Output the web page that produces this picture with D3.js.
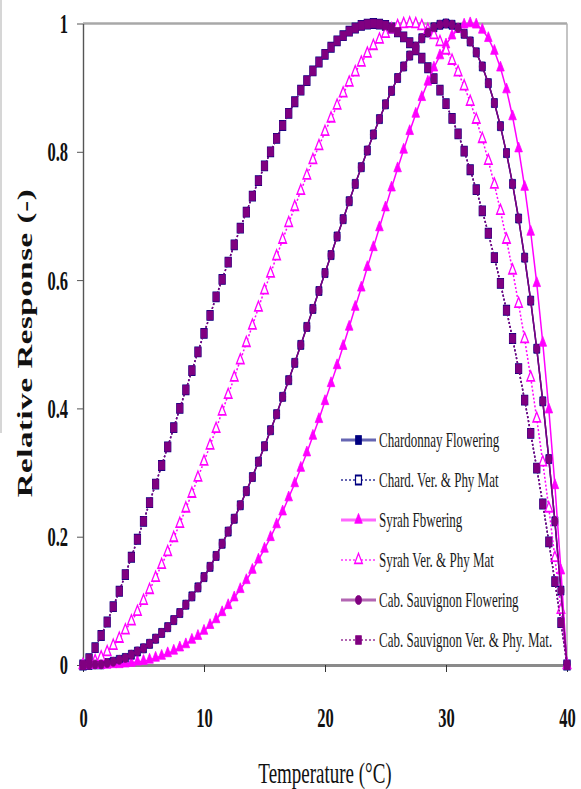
<!DOCTYPE html>
<html>
<head>
<meta charset="utf-8">
<script src="https://cdn.jsdelivr.net/npm/d3@7"></script>
<style>
  html, body { margin: 0; padding: 0; background: #fff; }
  svg { display: block; }
</style>
</head>
<body>
<div id="chart"></div>
<script>

// temperature (°C) of every marker, one each half degree
var temps = [0,0.5,1,1.5,2,2.5,3,3.5,4,4.5,5,5.5,6,6.5,7,7.5,8,8.5,9,9.5,
    10,10.5,11,11.5,12,12.5,13,13.5,14,14.5,15,15.5,16,16.5,17,17.5,18,18.5,19,19.5,
    20,20.5,21,21.5,22,22.5,23,23.5,24,24.5,25,25.5,26,26.5,27,27.5,28,28.5,29,29.5,
    30,30.5,31,31.5,32,32.5,33,33.5,34,34.5,35,35.5,36,36.5,37,37.5,38,38.5,39,39.5,40];

// curve peaking near 24 °C
var cabVerPhyMat = [0,0.010,0.027,0.046,0.067,0.091,0.115,0.141,0.168,0.196,
    0.224,0.253,0.282,0.311,0.340,0.370,0.400,0.429,0.459,0.488,
    0.517,0.545,0.574,0.601,0.628,0.655,0.681,0.706,0.731,0.755,
    0.778,0.800,0.821,0.841,0.860,0.878,0.896,0.911,0.926,0.940,
    0.952,0.963,0.973,0.981,0.988,0.993,0.997,0.999,1.000,0.999,
    0.997,0.993,0.987,0.979,0.970,0.959,0.946,0.931,0.914,0.896,
    0.875,0.852,0.828,0.801,0.772,0.741,0.708,0.673,0.635,0.595,
    0.553,0.509,0.462,0.413,0.361,0.307,0.251,0.192,0.130,0.066,0];

// curve peaking near 27 °C
var syrahVerPhyMat = [0,0.002,0.006,0.012,0.020,0.030,0.041,0.054,0.068,0.083,
    0.100,0.117,0.136,0.156,0.176,0.198,0.220,0.244,0.267,0.292,
    0.317,0.342,0.368,0.395,0.421,0.448,0.475,0.502,0.529,0.557,
    0.584,0.610,0.637,0.663,0.689,0.714,0.739,0.763,0.787,0.809,
    0.831,0.852,0.872,0.891,0.908,0.924,0.939,0.953,0.965,0.975,
    0.984,0.991,0.996,0.999,1.000,0.999,0.996,0.990,0.982,0.971,
    0.958,0.942,0.924,0.902,0.878,0.850,0.820,0.786,0.749,0.708,
    0.663,0.615,0.563,0.508,0.448,0.384,0.316,0.244,0.167,0.086,0];

// curve peaking near 30 °C
var chardFlowering = [0,0.000,0.001,0.001,0.003,0.005,0.008,0.011,0.016,0.021,
    0.026,0.033,0.041,0.050,0.059,0.070,0.081,0.094,0.107,0.121,
    0.137,0.153,0.170,0.189,0.208,0.228,0.249,0.271,0.293,0.317,
    0.341,0.366,0.391,0.418,0.444,0.471,0.499,0.527,0.555,0.583,
    0.611,0.639,0.668,0.695,0.723,0.750,0.776,0.802,0.827,0.851,
    0.874,0.895,0.915,0.933,0.950,0.964,0.977,0.986,0.994,0.998,
    1.000,0.998,0.993,0.984,0.972,0.955,0.933,0.907,0.876,0.840,
    0.798,0.750,0.696,0.635,0.568,0.493,0.411,0.321,0.224,0.116,0];

// curve peaking near 32 °C
var syrahFlowering = [0,0.000,0.000,0.000,0.000,0.001,0.001,0.002,0.003,0.005,
    0.006,0.008,0.011,0.014,0.018,0.022,0.027,0.032,0.039,0.045,
    0.053,0.062,0.071,0.082,0.093,0.105,0.118,0.132,0.148,0.164,
    0.181,0.199,0.219,0.239,0.261,0.283,0.307,0.331,0.357,0.383,
    0.411,0.439,0.467,0.497,0.527,0.558,0.588,0.620,0.651,0.682,
    0.713,0.744,0.774,0.803,0.832,0.859,0.885,0.909,0.931,0.950,
    0.967,0.981,0.991,0.998,1.000,0.998,0.990,0.977,0.957,0.931,
    0.897,0.855,0.805,0.745,0.675,0.595,0.502,0.398,0.280,0.147,0];

// these two lie right under the cab. sauvignon curves in the picture
var chardVerPhyMat = cabVerPhyMat.slice();
var cabFlowering = chardFlowering.slice();

var seriesNames = ["Chardonnay Flowering", "Chard. Ver. & Phy Mat", "Syrah Fbwering",
    "Syrah Ver. & Phy Mat", "Cab. Sauvignon Flowering", "Cab. Sauvignon Ver. & Phy. Mat."];
var seriesValues = [chardFlowering, chardVerPhyMat, syrahFlowering,
    syrahVerPhyMat, cabFlowering, cabVerPhyMat];

var xTicks = [0, 10, 20, 30, 40];
var yTicks = [0, 0.2, 0.4, 0.6, 0.8, 1];
var yTickLabels = ["0", "0.2", "0.4", "0.6", "0.8", "1"];

// look of each series (excel defaults)
var navy = "#000080", magenta = "#ff00ff", purple = "#800080";
var styles = [
    {color: navy,    dash: null,  shape: d3.symbolSquare,   size: 36, open: false},
    {color: navy,    dash: "2,2", shape: d3.symbolSquare,   size: 36, open: true},
    {color: magenta, dash: null,  shape: d3.symbolTriangle, size: 25, open: false},
    {color: magenta, dash: "2,2", shape: d3.symbolTriangle, size: 25, open: true},
    {color: purple,  dash: null,  shape: d3.symbolCircle,   size: 28, open: false},
    {color: purple,  dash: "2,2", shape: d3.symbolSquare,   size: 34, open: false}
];

var series = seriesNames.map(function(name, i) {
    return {
        name: name,
        style: styles[i],
        points: temps.map(function(t, j) { return {t: t, v: seriesValues[i][j]}; })
    };
});

var width = 581, height = 789;
var plotLeft = 83, plotRight = 567, plotTop = 23.5, plotBottom = 665;
var stretch = 1.6;   // the picture is tall and narrow, text and markers too
var serif = "'Liberation Serif', 'Times New Roman', serif";

var svg = d3.select("#chart").append("svg")
    .attr("width", width)
    .attr("height", height);

var x = d3.scaleLinear().domain([0, 40]).range([plotLeft, plotRight]);
var y = d3.scaleLinear().domain([0, 1]).range([plotBottom, plotTop]);

// faint edge left by the crop
svg.append("line")
    .attr("x1", 1).attr("x2", 1).attr("y1", 0).attr("y2", 433)
    .attr("stroke", "#c8c8c8").attr("stroke-width", 1.5);

// frame: top gridline at 1 and the right border
svg.append("line")
    .attr("x1", x(0)).attr("x2", x(40)).attr("y1", y(1)).attr("y2", y(1))
    .attr("stroke", "#a8a8a8").attr("stroke-width", 2.5);
svg.append("line")
    .attr("x1", x(40)).attr("x2", x(40)).attr("y1", y(1)).attr("y2", y(0))
    .attr("stroke", "#b0b0b0").attr("stroke-width", 1.5);

// y axis
var yAxis = svg.append("g")
    .attr("transform", "translate(" + plotLeft + ",0)")
    .call(d3.axisLeft(y).tickValues(yTicks)
        .tickFormat(function(d, i) { return yTickLabels[i]; })
        .tickSize(6).tickSizeOuter(0).tickPadding(9));
yAxis.select(".domain").attr("stroke", "#555").attr("stroke-width", 1.4);
yAxis.selectAll(".tick line").attr("stroke", "#555");
yAxis.selectAll("text")
    .attr("font-family", serif).attr("font-size", 16.5).attr("font-weight", "bold")
    .attr("fill", "#111")
    .attr("transform", "scale(1,1.7)");

// x axis
var xAxis = svg.append("g")
    .attr("transform", "translate(0," + plotBottom + ")")
    .call(d3.axisBottom(x).tickValues(xTicks).tickSize(7).tickSizeOuter(0));
xAxis.select(".domain").attr("stroke", "#8a8a8a").attr("stroke-width", 3);
xAxis.selectAll(".tick line").attr("stroke", "#333");
xAxis.selectAll("text")
    .attr("font-family", serif).attr("font-size", 16.5).attr("font-weight", "bold")
    .attr("fill", "#111")
    .attr("y", 62 / 1.7).attr("dy", 0)
    .attr("transform", "scale(1,1.7)");

// axis titles
svg.append("text")
    .attr("transform", "translate(" + ((plotLeft + plotRight) / 2) + ",783) scale(1," + stretch + ")")
    .attr("text-anchor", "middle")
    .attr("font-family", serif).attr("font-size", 19)
    .attr("fill", "#111")
    .text("Temperature (°C)");

svg.append("text")
    .attr("transform", "translate(25,343) scale(1," + stretch + ") rotate(-90)")
    .attr("text-anchor", "middle")
    .attr("dominant-baseline", "central")
    .attr("font-family", serif).attr("font-size", 20.5).attr("font-weight", "bold")
    .attr("letter-spacing", 0.4)
    .attr("fill", "#111")
    .text("Relative Response (-)");

// the curves
var line = d3.line()
    .x(function(d) { return x(d.t); })
    .y(function(d) { return y(d.v); });

function markerStyle(sel, st) {
    sel.attr("d", d3.symbol().type(st.shape).size(st.size))
        .attr("fill", st.open ? "#fff" : st.color)
        .attr("stroke", st.color)
        .attr("stroke-width", st.open ? 1.2 : 0.6);
}

var plot = svg.append("g");

series.forEach(function(s) {
    var g = plot.append("g");
    g.append("path")
        .datum(s.points)
        .attr("d", line)
        .attr("fill", "none")
        .attr("stroke", s.style.color)
        .attr("stroke-width", 1.5)
        .attr("stroke-dasharray", s.style.dash);

    g.selectAll(".pt")
        .data(s.points)
        .enter().append("path")
        .attr("class", "pt")
        .attr("transform", function(d) {
            return "translate(" + x(d.t) + "," + y(d.v) + ") scale(1,1.5)";
        })
        .call(markerStyle, s.style);
});

// legend, no box
var legend = svg.append("g").attr("transform", "translate(341,440)");

var rows = legend.selectAll(".row")
    .data(series)
    .enter().append("g")
    .attr("class", "row")
    .attr("transform", function(d, i) { return "translate(0," + (i * 40) + ")"; });

rows.append("line")
    .attr("x1", 0).attr("x2", 35).attr("y1", 0).attr("y2", 0)
    .attr("stroke", function(d) { return d.style.color; })
    .attr("stroke-opacity", function(d) { return d.style.dash ? 0.8 : 0.6; })
    .attr("stroke-width", function(d) { return d.style.dash ? 1.5 : 3; })
    .attr("stroke-dasharray", function(d) { return d.style.dash; });

rows.append("path")
    .attr("transform", "translate(17.5,0) scale(1,1.5)")
    .each(function(d) { d3.select(this).call(markerStyle, d.style); });

rows.append("text")
    .attr("transform", "translate(38,7) scale(1," + stretch + ")")
    .attr("font-family", serif).attr("font-size", 13)
    .attr("fill", "#1a1a1a")
    .text(function(d) { return d.name; });

</script>
</body>
</html>
